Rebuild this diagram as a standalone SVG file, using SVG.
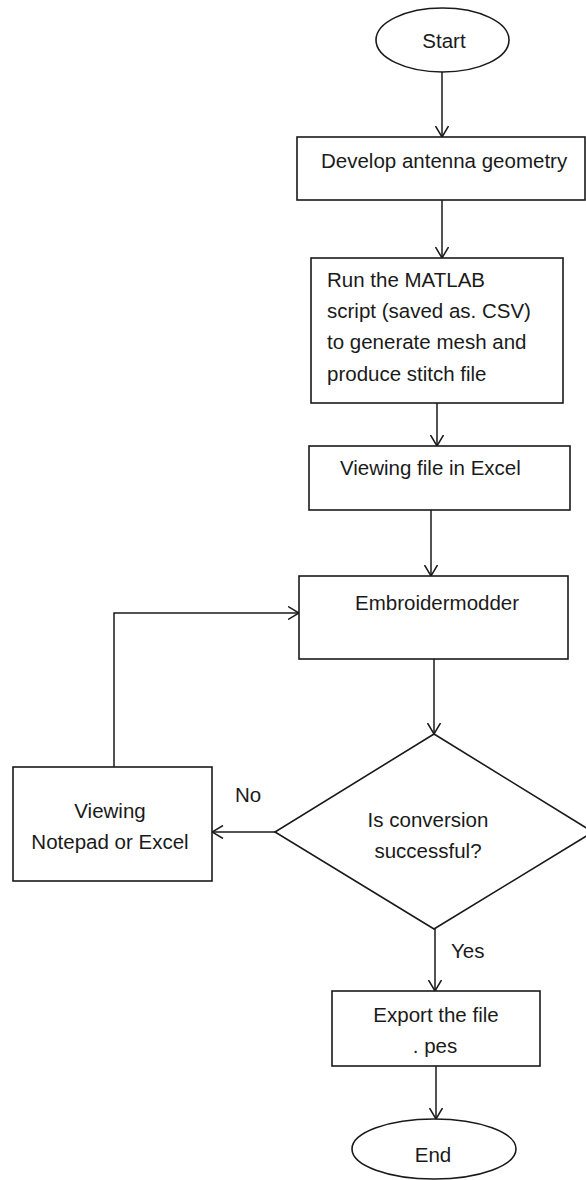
<svg xmlns="http://www.w3.org/2000/svg" width="586" height="1180" viewBox="0 0 586 1180">
<defs>
<marker id="arr" viewBox="0 0 12 14" refX="11.5" refY="7" markerWidth="12" markerHeight="14" markerUnits="userSpaceOnUse" orient="auto">
<path d="M0.5,0.5 L11.5,7 L0.5,13.5" fill="none" stroke="#1a1a1a" stroke-width="1.5"/>
</marker>
</defs>
<style>
.s{fill:#fff;stroke:#1a1a1a;stroke-width:1.6}
.t{font-family:"Liberation Sans",Arial,sans-serif;font-size:20.5px;fill:#1a1a1a}
.m{text-anchor:middle}
.c{fill:none;stroke:#1a1a1a;stroke-width:1.5;marker-end:url(#arr)}
</style>
<rect width="586" height="1180" fill="#fff"/>
<g id="connectors">
<path class="c" d="M442,72 V137"/>
<path class="c" d="M442,200 V258"/>
<path class="c" d="M437,403 V446"/>
<path class="c" d="M431,510 V576"/>
<path class="c" d="M434,659 V734"/>
<path class="c" d="M275,832 H212"/>
<path class="c" d="M114,767 V613 H299"/>
<path class="c" d="M435,929 V991"/>
<path class="c" d="M436,1066 V1119"/>
<text class="t" x="235" y="802">No</text>
<text class="t" x="451" y="958">Yes</text>
</g>
<g id="start">
<ellipse class="s" cx="442.5" cy="40" rx="66.5" ry="32"/>
<text class="t m" x="444" y="48">Start</text>
</g>
<g id="develop">
<rect class="s" x="297" y="137" width="288" height="63"/>
<text class="t" x="321" y="168">Develop antenna geometry</text>
</g>
<g id="matlab">
<rect class="s" x="311" y="258" width="252" height="145"/>
<text class="t" x="327" y="287">Run the MATLAB</text>
<text class="t" x="327" y="318">script (saved as. CSV)</text>
<text class="t" x="327" y="349">to generate mesh and</text>
<text class="t" x="327" y="381">produce stitch file</text>
</g>
<g id="excel">
<rect class="s" x="309" y="446" width="261" height="64"/>
<text class="t" x="340" y="475">Viewing file in Excel</text>
</g>
<g id="embroidermodder">
<rect class="s" x="299" y="576" width="269" height="83"/>
<text class="t" x="355" y="610">Embroidermodder</text>
</g>
<g id="decision">
<polygon class="s" points="434,734 275,832 434,929 593,832"/>
<text class="t m" x="428" y="827">Is conversion</text>
<text class="t m" x="428" y="858">successful?</text>
</g>
<g id="viewing">
<rect class="s" x="13" y="767" width="199" height="114"/>
<text class="t m" x="110" y="818">Viewing</text>
<text class="t m" x="110" y="849">Notepad or Excel</text>
</g>
<g id="export">
<rect class="s" x="332" y="991" width="208" height="75"/>
<text class="t m" x="436" y="1022">Export the file</text>
<text class="t m" x="435" y="1053">. pes</text>
</g>
<g id="end">
<ellipse class="s" cx="434" cy="1149" rx="82" ry="30"/>
<text class="t m" x="433" y="1162">End</text>
</g>
</svg>
